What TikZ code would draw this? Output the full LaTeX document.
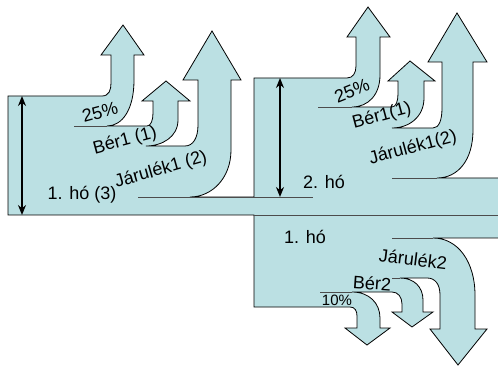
\documentclass[tikz,border=0pt]{standalone}
\usepackage{fontspec}
\setmainfont{Liberation Sans}
\usetikzlibrary{arrows.meta}
\definecolor{flowfill}{RGB}{187,224,227}
\begin{document}
\begin{tikzpicture}[x=1pt,y=-1pt,
  flow/.style={fill=flowfill},
  edge/.style={draw=black, line width=0.8pt, line join=miter},
  seam/.style={draw=black!70, line width=0.8pt},
  span/.style={{Stealth[length=10pt,width=8pt]}-{Stealth[length=10pt,width=8pt]}, line width=1.8pt},
  lbl/.style={inner sep=0pt, font=\fontsize{18}{21}\selectfont},
  smalllbl/.style={inner sep=0pt, font=\fontsize{15}{18}\selectfont}]
\useasboundingbox (0,0) rectangle (498,366);

% outline of the whole flow: lower outflows, month-1 block, month-2 block
\def\flowoutline{(498,238) -- (433,238)
 .. controls (458,238) and (475,262) .. (475,295) -- (475,329) -- (487,329) -- (458,365) -- (430,329) -- (440,329) -- (440,295)
 .. controls (440,284) and (435,278) .. (427,278) -- (400,278)
 .. controls (414,278) and (423,287) .. (423,300) -- (423,312) -- (433,312) -- (412,327) -- (392,312) -- (402,312) -- (402,304)
 .. controls (402,297) and (398,292) .. (392,292) -- (352,292)
 .. controls (369,292) and (380,303) .. (380,318) -- (380,328) -- (390,328) -- (367,345) -- (345,328) -- (357,328) -- (357,316)
 .. controls (357,311) and (355,307) .. (350,307) -- (254,307) -- (254,215) -- (8,215) -- (8,96) -- (102,96)
 .. controls (109,96) and (111,90) .. (111,83) -- (111,55) -- (101,55) -- (123,25) -- (144,55) -- (134,55) -- (134,80)
 .. controls (134,110) and (122,126) .. (107,126) -- (147,126)
 .. controls (151,126) and (153,120) .. (153,113) -- (153,101) -- (142,101) -- (166,81) -- (190,101) -- (178,101) -- (178,120)
 .. controls (178,137) and (162,146) .. (146,146) -- (185,146)
 .. controls (193,146) and (198,138) .. (198,125) -- (198,80) -- (183,80) -- (212,31) -- (241,80) -- (231,80) -- (231,150)
 .. controls (231,178) and (212,197) .. (190,197) -- (254,197) -- (254,78) -- (347,78)
 .. controls (353,78) and (356,73) .. (356,66) -- (356,37) -- (347,37) -- (368,7) -- (390,37) -- (380,37) -- (380,75)
 .. controls (380,95) and (368,107) .. (352,107) -- (392,107)
 .. controls (396,107) and (398,101) .. (398,94) -- (398,81) -- (388,81) -- (410,61) -- (435,81) -- (424,81) -- (424,98)
 .. controls (424,117) and (409,128) .. (392,128) -- (433,128)
 .. controls (439,128) and (442,120) .. (442,108) -- (442,62) -- (428,62) -- (457,13) -- (487,62) -- (473,62) -- (473,130)
 .. controls (473,160) and (458,178) .. (437,178) -- (498,178)}

\fill[flow] \flowoutline -- cycle;
\draw[edge] \flowoutline;

% seams between the bands
\draw[seam] (74,126) -- (107,126);
\draw[seam] (138,197) -- (313,197);
\draw[seam] (318,107) -- (352,107);
\draw[seam] (392,178) -- (437,178);
\draw[seam] (392,238) -- (433,238);
\draw[seam] (392,278) -- (400,278);
\draw[seam] (320,292) -- (352,292);
\draw[seam] (254,215) -- (498,215);

% height markers
\coordinate (m1top) at (22,96);
\coordinate (m1bot) at (22,215);
\coordinate (m2top) at (280,78);
\coordinate (m2bot) at (280,197);
\draw[span] (m1top) -- (m1bot);
\draw[span] (m2top) -- (m2bot);

% labels
\node[lbl, rotate=15] (pctA) at (100,112) {25\%};
\node[lbl, rotate=15] (berA) at (125,141) {Bér1 (1)};
\node[lbl, rotate=16] (jarA) at (161,170) {Járulék1 (2)};
\node[lbl] (hoA) at (82,195) {1. hó (3)};
\node[lbl, rotate=22] (pctB) at (352,91) {25\%};
\node[lbl, rotate=15] (berB) at (382,116) {Bér1(1)};
\node[lbl, rotate=15] (jarB) at (413,148) {Járulék1(2)};
\node[lbl] (hoB) at (324,182) {2. hó};
\node[lbl] (hoC) at (305,237) {1. hó};
\node[lbl, rotate=-7] (jarC) at (413,259) {Járulék2};
\node[lbl, rotate=-4] (berC) at (372,283) {Bér2};
\node[smalllbl] (pctC) at (337,300) {10\%};
\end{tikzpicture}
\end{document}
